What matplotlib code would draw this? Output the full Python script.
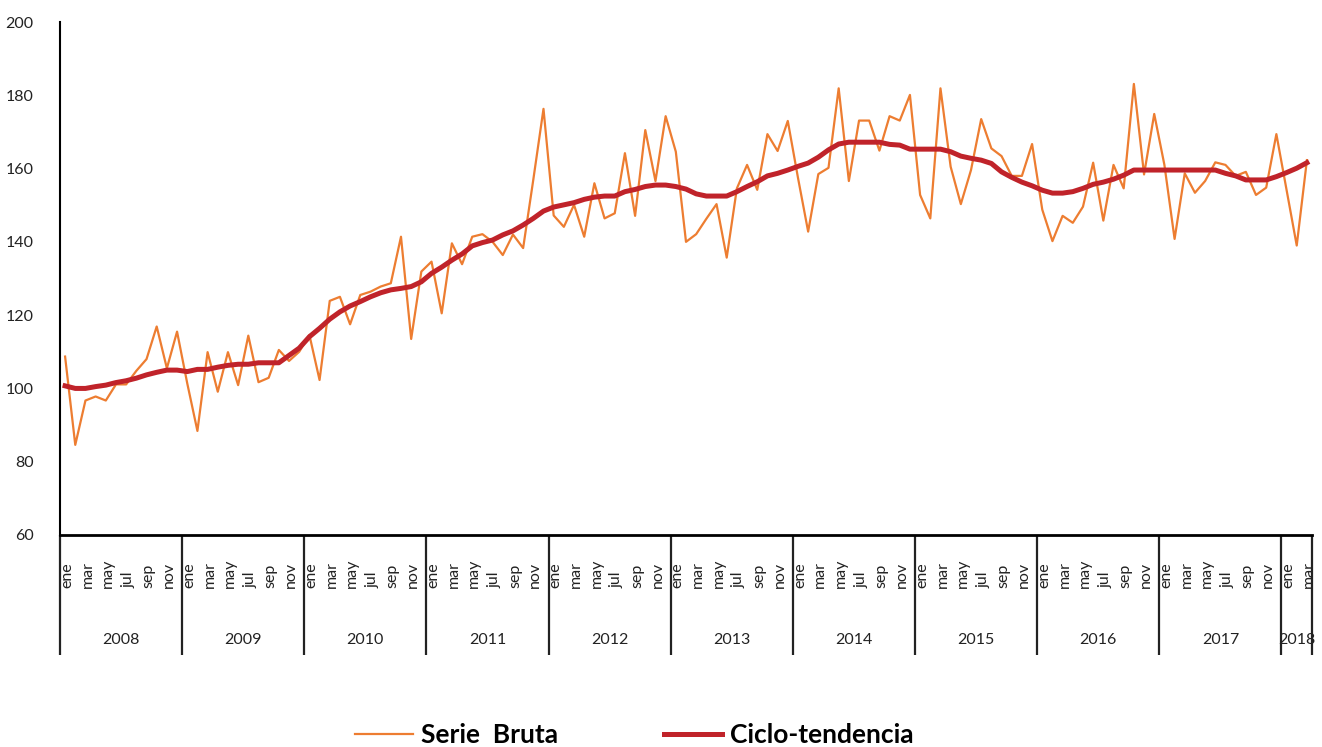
import matplotlib.pyplot as plt
from matplotlib.lines import Line2D

plt.rcParams['font.family'] = ['Lato', 'DejaVu Sans']

# Monthly data, Jan 2008 - Mar 2018
years = ['2008', '2009', '2010', '2011', '2012', '2013', '2014', '2015', '2016', '2017', '2018']
month_abbr = ['ene', 'feb', 'mar', 'abr', 'may', 'jun', 'jul', 'ago', 'sep', 'oct', 'nov', 'dic']
months_per_year = [12, 12, 12, 12, 12, 12, 12, 12, 12, 12, 3]

serie_bruta = [
    108.7, 84.6, 96.7, 97.8, 96.7, 101.1, 101.1, 104.8, 108.0, 116.9, 105.5, 115.5,
    101.4, 88.4, 109.9, 99.1, 109.9, 100.9, 114.4, 101.7, 102.9, 110.5, 107.5, 110.0,
    114.6, 102.3, 123.9, 125.0, 117.5, 125.5, 126.4, 127.8, 128.7, 141.4, 113.5, 131.9,
    134.6, 120.5, 139.6, 133.9, 141.4, 142.1, 140.0, 136.4, 142.0, 138.3, 157.0, 176.3,
    147.2, 144.1, 150.1, 141.4, 156.0, 146.4, 147.8, 164.2, 147.1, 170.5, 156.6, 174.3,
    164.6, 140.0, 142.1, 146.3, 150.3, 135.7, 154.6, 161.0, 154.2, 169.4, 164.8, 173.0,
    157.5, 142.8, 158.5, 160.2, 181.9, 156.6, 173.1, 173.1, 164.9, 174.3, 173.1, 180.1,
    152.8, 146.4, 181.9, 160.5, 150.3, 159.6, 173.5, 165.5, 163.4, 158.0, 158.0, 166.7,
    148.8, 140.2, 147.1, 145.2, 149.6, 161.6, 145.8, 161.0, 154.6, 183.1, 158.4, 174.9,
    161.0, 140.8, 158.7, 153.4, 156.6, 161.7, 161.0, 158.0, 159.1, 152.8, 154.8, 169.4,
    154.2, 139.0, 162.3,
]

ciclo_tendencia = [
    100.7, 100.0, 100.0, 100.5, 100.9, 101.6, 102.1, 102.8, 103.7, 104.4, 105.0, 105.0,
    104.6, 105.2, 105.2, 105.8, 106.3, 106.6, 106.6, 107.0, 107.0, 107.0, 109.0, 111.0,
    114.1, 116.4, 118.9, 120.9, 122.5, 123.7, 125.0, 126.1, 126.9, 127.3, 127.8, 129.1,
    131.4, 133.1, 135.0, 136.7, 138.9, 139.8, 140.5, 141.9, 143.0, 144.6, 146.4, 148.4,
    149.5, 150.1, 150.7, 151.6, 152.2, 152.5, 152.5, 153.7, 154.3, 155.1, 155.5, 155.5,
    155.1, 154.4, 153.1, 152.5, 152.5, 152.5, 153.7, 155.1, 156.4, 158.0, 158.7, 159.6,
    160.6, 161.5, 163.1, 165.1, 166.7, 167.2, 167.2, 167.2, 167.2, 166.6, 166.4, 165.3,
    165.3, 165.3, 165.3, 164.6, 163.4, 162.8, 162.3, 161.4, 159.1, 157.6, 156.3, 155.3,
    154.1, 153.3, 153.3, 153.7, 154.6, 155.7, 156.3, 157.1, 158.2, 159.6, 159.6, 159.6,
    159.6, 159.6, 159.6, 159.6, 159.6, 159.6, 158.7, 158.0, 156.9, 156.9, 156.9, 157.8,
    158.9, 160.1, 161.6,
]

n = len(serie_bruta)
x = list(range(n))
month_labels = [month_abbr[i % 12] for i in x]

W, H = 1322, 747
fig = plt.figure(figsize=(W / 100, H / 100), dpi=100)
ax = fig.add_axes([60 / W, 1 - 535 / H, 1252 / W, 513 / H])

ax.plot(x, serie_bruta, color='#ED7D31', lw=1.6, label='Serie  Bruta')
ax.plot(x, ciclo_tendencia, color='#C0232A', lw=3.6, label='Ciclo-tendencia')

ax.set_xlim(-0.5, n - 0.5)
ax.set_ylim(60, 200)
ax.set_yticks(range(60, 201, 20))
ax.set_xticks([])
ax.tick_params(axis='y', length=0, pad=19, labelsize=11.5, labelcolor='#222222')

for s in ['top', 'right']:
    ax.spines[s].set_visible(False)
ax.spines['left'].set_linewidth(1.5)
ax.spines['bottom'].set_linewidth(2)

# month labels (every other month), rotated
trans = ax.get_xaxis_transform()
ax_h = 513
for i in range(0, n, 2):
    ax.text(i + 0.2, -(588 - 535) / ax_h, month_labels[i], transform=trans,
            rotation=90, ha='center', va='bottom', fontsize=11.5, color='#222222')

# year separators and labels
bounds = [-0.5]
for m in months_per_year:
    bounds.append(bounds[-1] + m)
ax.vlines(bounds, -(655 - 535) / ax_h, 0, transform=trans, colors='#222222',
          lw=1.6, clip_on=False)
for k, yr in enumerate(years):
    ax.text((bounds[k] + bounds[k + 1]) / 2, -(640 - 535) / ax_h, yr, transform=trans,
            ha='center', va='center', fontsize=11.5, color='#222222')

handles = [Line2D([], [], color='#ED7D31', lw=1.6),
           Line2D([], [], color='#C0232A', lw=3.6)]
fig.legend(handles, ['Serie  Bruta', 'Ciclo-tendencia'], loc='center',
           bbox_to_anchor=(0.48, 0.016), ncol=2, frameon=False,
           prop={'weight': 'bold', 'size': 19}, handlelength=2.2,
           handletextpad=0.3, columnspacing=4.0)

fig.savefig('out.png', dpi=100)
